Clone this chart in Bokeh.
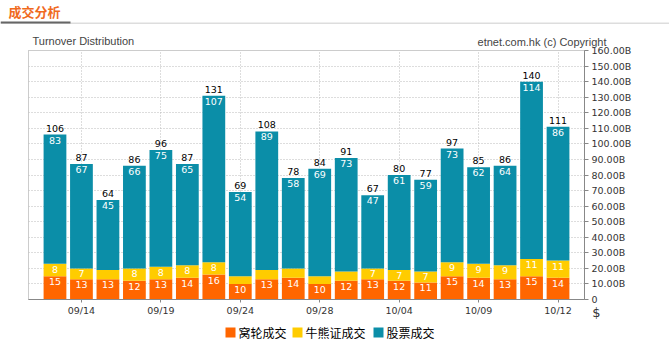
from bokeh.plotting import figure
from bokeh.layouts import column
from bokeh.models import ColumnDataSource, FixedTicker, Range1d
from bokeh.embed import file_html
from bokeh.resources import INLINE
from bokeh.core.properties import value

# ---------------- data ----------------
dates = ["09/13", "09/14", "09/17", "09/18", "09/19", "09/20", "09/21", "09/24",
         "09/25", "09/26", "09/28", "10/02", "10/03", "10/04", "10/05", "10/08",
         "10/09", "10/10", "10/11", "10/12"]
warrant = [15, 13, 13, 12, 13, 14, 16, 10, 13, 14, 10, 12, 13, 12, 11, 15, 14, 13, 15, 14]
cbbc = [8, 7, 6, 8, 8, 8, 8, 5, 6, 6, 5, 6, 7, 7, 7, 9, 9, 9, 11, 11]
stock = [83, 67, 45, 66, 75, 65, 107, 54, 89, 58, 69, 73, 47, 61, 59, 73, 62, 64, 114, 86]
tick_dates = ["09/14", "09/19", "09/24", "09/28", "10/04", "10/09", "10/12"]
y_ticks = [0, 10, 20, 30, 40, 50, 60, 70, 80, 90, 100, 110, 120, 130, 140, 150, 160]
y_tick_labels = ["0", "10.00B", "20.00B", "30.00B", "40.00B", "50.00B", "60.00B",
                 "70.00B", "80.00B", "90.00B", "100.00B", "110.00B", "120.00B",
                 "130.00B", "140.00B", "150.00B", "160.00B"]
series_names = ["窝轮成交", "牛熊证成交", "股票成交"]
colors = ["#FF6600", "#FFCC00", "#0B8EA8"]
section_title = "成交分析"
chart_title = "Turnover Distribution"
copyright_text = "etnet.com.hk (c) Copyright"
unit_text = "$"

W, H = 669, 359

# ---------------- derived ----------------
xs = list(range(1, len(dates) + 1))
c_top = [w + c for w, c in zip(warrant, cbbc)]
total = [w + c + s for w, c, s in zip(warrant, cbbc, stock)]
src = ColumnDataSource(dict(
    x=xs, warrant=warrant, cbbc=cbbc, stock=stock,
    w_top=warrant, c_top=c_top, total=total,
    w_lbl=[str(v) for v in warrant],
    c_lbl=[str(v) if v >= 7 else "" for v in cbbc],
    s_lbl=[str(v) for v in stock],
    t_lbl=[str(v) for v in total],
))

# ---------------- main chart ----------------
p = figure(width=W, height=H, output_backend="svg", toolbar_location=None,
           x_range=Range1d(0, len(dates) + 1), y_range=Range1d(0, 160),
           y_axis_location="right",
           min_border_left=28, min_border_right=85,
           min_border_top=50, min_border_bottom=60,
           background_fill_color="white", border_fill_color="white")
p.frame_align = False

renderers = p.vbar_stack(["warrant", "cbbc", "stock"], x="x", width=0.86,
                         color=colors, line_color=None, source=src)

num_font = value("DejaVu Sans")
for ycol, tcol in (("w_top", "w_lbl"), ("c_top", "c_lbl"), ("total", "s_lbl")):
    p.text(x="x", y=ycol, text=tcol, source=src, text_color="white",
           text_font=num_font, text_font_size="9.5px", text_align="center",
           text_baseline="top", y_offset=2)
p.text(x="x", y="total", text="t_lbl", source=src, text_color="black",
       text_font=num_font, text_font_size="9.5px", text_align="center",
       text_baseline="bottom", y_offset=-3)

xt = [dates.index(d) + 1 for d in tick_dates]
p.xaxis.ticker = FixedTicker(ticks=xt)
p.xaxis.major_label_overrides = {t: d for t, d in zip(xt, tick_dates)}
p.xgrid.ticker = FixedTicker(ticks=xt)
p.yaxis.ticker = FixedTicker(ticks=y_ticks)
p.yaxis.major_label_overrides = {t: l for t, l in zip(y_ticks, y_tick_labels)}
p.ygrid.ticker = FixedTicker(ticks=y_ticks)

for ax in (p.xaxis, p.yaxis):
    ax.axis_line_color = "#888888"
    ax.major_tick_line_color = "#888888"
    ax.minor_tick_line_color = None
    ax.major_tick_in = 0
    ax.major_label_text_font = "DejaVu Sans"
    ax.major_label_text_font_size = "9.5px"
    ax.major_label_text_color = "#333333"
p.yaxis.major_tick_out = 4
p.yaxis.major_label_standoff = 3
p.xaxis.major_tick_out = 3
p.xaxis.major_label_standoff = 2

p.grid.grid_line_color = "#BBBBBB"
p.grid.grid_line_dash = "1 2"
p.outline_line_color = "#999999"
p.outline_line_dash = "1 1"

# ---------------- overlay for header / footer texts ----------------
o = figure(width=W, height=H, output_backend="svg", toolbar_location=None,
           x_range=Range1d(0, W), y_range=Range1d(H, 0),
           x_axis_type=None, y_axis_type=None,
           min_border=0, min_border_left=0, min_border_right=0,
           min_border_top=0, min_border_bottom=0,
           background_fill_alpha=0, border_fill_alpha=0, outline_line_color=None)
o.frame_align = False
o.grid.visible = False
o.margin = (-H, 0, 0, 0)

# header lines
o.quad(left=[0], right=[W], top=[22], bottom=[23.5], fill_color="#DDDDDD", line_color=None)
o.quad(left=[0], right=[70], top=[21], bottom=[23], fill_color="#666666", line_color=None)
o.text(x=[8], y=[11], text=[section_title], text_font=value("Noto Sans CJK SC"),
       text_font_style="bold", text_font_size="13px", text_color="#F06A1E",
       text_baseline="middle")
o.text(x=[32], y=[40.5], text=[chart_title], text_font=value("Liberation Sans"),
       text_font_size="11px", text_color="#444444", text_baseline="middle")
o.text(x=[606], y=[41], text=[copyright_text], text_font=value("Liberation Sans"),
       text_font_size="11px", text_color="#444444", text_baseline="middle",
       text_align="right")
o.text(x=[596], y=[312], text=[unit_text], text_font=value("DejaVu Sans"),
       text_font_size="13px", text_color="#333333", text_baseline="middle",
       text_align="center")

# legend
legend_x = [225, 292, 373]
o.quad(left=legend_x, right=[v + 10 for v in legend_x], top=[327] * 3, bottom=[337] * 3,
       fill_color=colors, line_color=None)
o.text(x=[v + 13 for v in legend_x], y=[331.5] * 3, text=series_names,
       text_font=value("Noto Sans CJK SC"), text_font_size="12px",
       text_color="#000000", text_baseline="middle")

layout = column(p, o, spacing=0)
open("out.html", "w").write(file_html(layout, INLINE))
